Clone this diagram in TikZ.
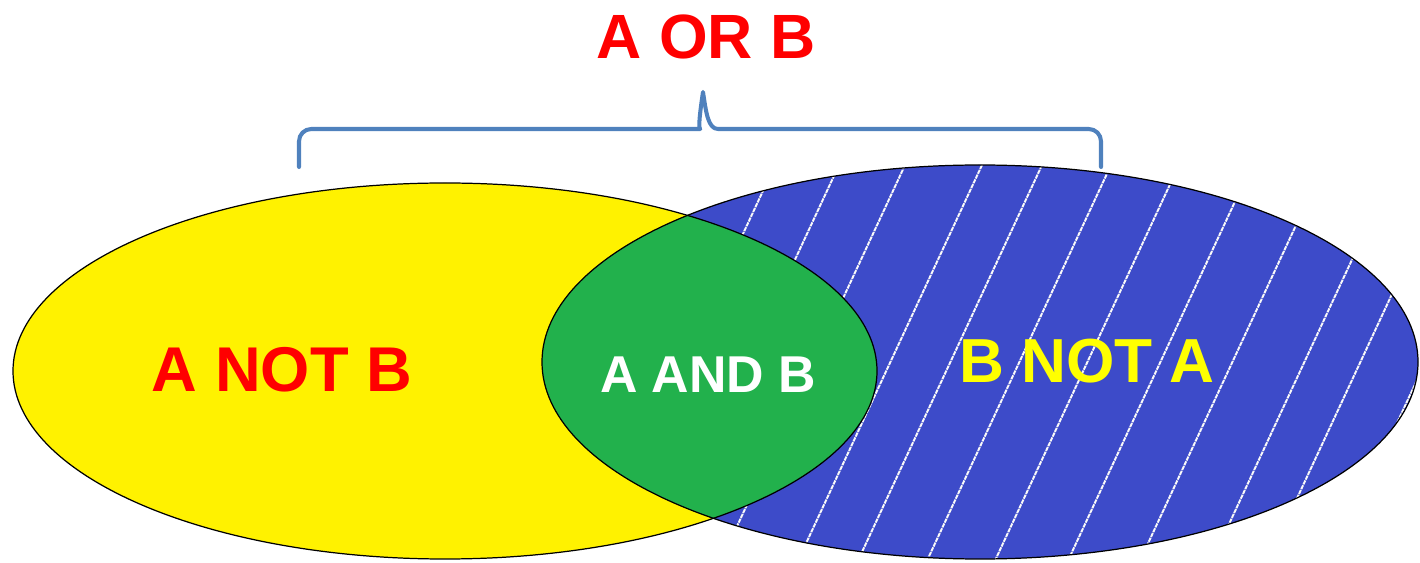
\documentclass[tikz,border=0pt]{standalone}
\usepackage{fontspec}
\setmainfont{Liberation Sans}
\definecolor{setA}{RGB}{255,242,0}
\definecolor{setB}{RGB}{61,75,201}
\definecolor{setAB}{RGB}{34,177,76}
\definecolor{bracecol}{RGB}{79,129,189}
\definecolor{txtred}{RGB}{255,0,0}
\definecolor{txtyel}{RGB}{255,255,0}
\tikzset{
  setline/.style={draw=black, line width=0.7pt},
  hatch/.style={white!95!gray, line width=1.1pt, dash pattern=on 2.5pt off 0.5pt},
  bracestyle/.style={bracecol, line width=2.3pt, line cap=round, line join=round},
  lbl/.style={font=\bfseries, inner sep=0pt}
}
\begin{document}
\begin{tikzpicture}[x=0.02cm, y=-0.02cm]
  \useasboundingbox (0,0) rectangle (1420,563);

  % the two sets
  \fill[setA] (445,371) ellipse [x radius=432, y radius=188];
  \fill[setB] (980,362) ellipse [x radius=438, y radius=197];

  % hatching of B
  \begin{scope}
    \clip (980,362) ellipse [x radius=438, y radius=197];
    \foreach \x in {626,690,756,833,893,962,1030,1103,1175,1247,1303,1368}
      \draw[hatch] (\x-44,580) -- (\x+156,150);
  \end{scope}

  % intersection
  \begin{scope}
    \clip (445,371) ellipse [x radius=432, y radius=188];
    \fill[setAB] (980,362) ellipse [x radius=438, y radius=197];
  \end{scope}

  \draw[setline] (445,371) ellipse [x radius=432, y radius=188];
  \draw[setline] (980,362) ellipse [x radius=438, y radius=197];

  % labels
  \node[lbl, txtred, font=\bfseries\fontsize{36}{40}\selectfont] (anotb) at (282,370) {A NOT B};
  \node[lbl, white, font=\bfseries\fontsize{29.5}{34}\selectfont] (aandb) at (708,375) {A AND B};
  \node[lbl, txtyel, font=\bfseries\fontsize{35.4}{40}\selectfont] (bnota) at (1087,361) {B NOT A};
  \node[lbl, txtred, font=\bfseries\fontsize{35.6}{40}\selectfont] (aorb) at (706,37) {A OR B};

  % brace
  \coordinate (bl) at (299,167);
  \coordinate (br) at (1101,167);
  \coordinate (bm) at (703,92);
  \draw[bracestyle] (bl) [rounded corners=7pt] -- (299,129) -- (688,129) [sharp corners]
    .. controls (698,129) and (700,112) .. (bm)
    .. controls (706,112) and (708,129) .. (718,129) [rounded corners=7pt] -- (1101,129) -- (br);
\end{tikzpicture}
\end{document}
